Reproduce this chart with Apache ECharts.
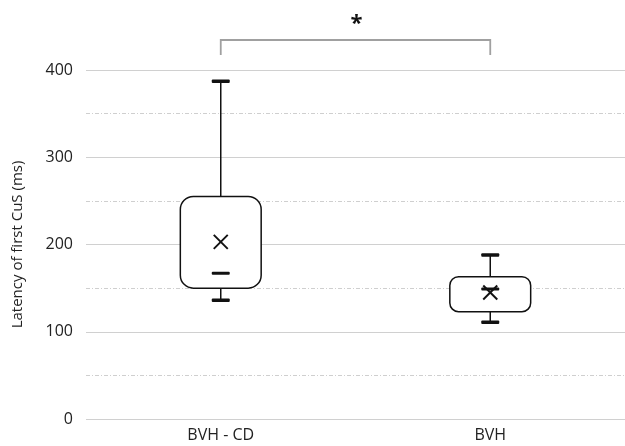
<!DOCTYPE html>
<html>
<head>
<meta charset="utf-8">
<script src="https://cdn.jsdelivr.net/npm/echarts@6/dist/echarts.min.js"></script>
<style>html,body{margin:0;padding:0;background:#fff}#c{width:625px;height:446px}</style>
</head>
<body>
<div id="c"></div>
<script>
const categories = ['BVH - CD', 'BVH'];
const lowerWhisker = [136, 111];
const q1 = [150, 123];
const median = [167, 149];
const q3 = [255, 163];
const upperWhisker = [387, 188];
const mean = [203, 145];
const yTicks = [0, 100, 200, 300, 400];
const significance = '*';

const boxData = categories.map((c, i) => [i, lowerWhisker[i], q1[i], median[i], q3[i], upperWhisker[i], mean[i]]);

function renderBox(params, api) {
  const x = api.value(0);
  const pLow = api.coord([x, api.value(1)]);
  const pQ1 = api.coord([x, api.value(2)]);
  const pMed = api.coord([x, api.value(3)]);
  const pQ3 = api.coord([x, api.value(4)]);
  const pHigh = api.coord([x, api.value(5)]);
  const pMean = api.coord([x, api.value(6)]);
  const cx = pQ1[0];
  const bw = api.size([1, 0])[0] * 0.3;
  const h = pQ1[1] - pQ3[1];
  const r = Math.min(13, h / 4);
  const capW = 18, capH = 3.5;
  const blk = '#111';
  return {
    type: 'group',
    children: [
      { type: 'line', shape: { x1: cx, y1: pHigh[1], x2: cx, y2: pQ3[1] }, style: { stroke: blk, lineWidth: 1.5 } },
      { type: 'line', shape: { x1: cx, y1: pQ1[1], x2: cx, y2: pLow[1] }, style: { stroke: blk, lineWidth: 1.5 } },
      { type: 'rect', shape: { x: cx - capW / 2, y: pHigh[1] - capH / 2, width: capW, height: capH, r: 1 }, style: { fill: blk } },
      { type: 'rect', shape: { x: cx - capW / 2, y: pLow[1] - capH / 2, width: capW, height: capH, r: 1 }, style: { fill: blk } },
      { type: 'rect', shape: { x: cx - bw / 2, y: pQ3[1], width: bw, height: h, r: r }, style: { fill: '#fff', stroke: blk, lineWidth: 1.5 } },
      { type: 'rect', shape: { x: cx - 9, y: pMed[1] - 1.5, width: 18, height: 3, r: 1 }, style: { fill: blk } },
      { type: 'line', shape: { x1: pMean[0] - 7, y1: pMean[1] - 7, x2: pMean[0] + 7, y2: pMean[1] + 7 }, style: { stroke: blk, lineWidth: 2 } },
      { type: 'line', shape: { x1: pMean[0] - 7, y1: pMean[1] + 7, x2: pMean[0] + 7, y2: pMean[1] - 7 }, style: { stroke: blk, lineWidth: 2 } }
    ]
  };
}

function renderBracket(params, api) {
  const a = api.coord([0, yTicks[yTicks.length - 1]]);
  const b = api.coord([1, yTicks[yTicks.length - 1]]);
  const top = a[1] - 30, bot = a[1] - 15;
  const col = '#a0a0a0';
  return {
    type: 'group',
    children: [
      { type: 'polyline', shape: { points: [[a[0], bot], [a[0], top], [b[0], top], [b[0], bot]] }, style: { stroke: col, lineWidth: 1.8, fill: null } },
      { type: 'text', style: { x: (a[0] + b[0]) / 2 + 1, y: top - 16, text: significance, fill: '#111', font: 'bold 22px "Open Sans"', align: 'center', verticalAlign: 'middle' } }
    ]
  };
}

const chart = echarts.init(document.getElementById('c'));
chart.setOption({
  animation: false,
  textStyle: { fontFamily: 'Open Sans' },
  grid: { left: 86, right: -1, top: 70, bottom: 27 },
  xAxis: {
    type: 'category',
    data: categories,
    axisLine: { show: false },
    axisTick: { show: false },
    axisLabel: { fontSize: 16, color: '#222', margin: 8 }
  },
  yAxis: {
    type: 'value',
    min: yTicks[0],
    max: yTicks[yTicks.length - 1],
    interval: 100,
    name: 'Latency of first CuS (ms)',
    nameLocation: 'middle',
    nameGap: 61,
    nameTextStyle: { fontSize: 15, color: '#222' },
    axisLine: { show: false },
    axisTick: { show: false },
    axisLabel: { fontSize: 16, color: '#222', margin: 13 },
    splitLine: { lineStyle: { color: '#d0d0d0', width: 1.2 } },
    minorTick: { show: false, splitNumber: 2 },
    minorSplitLine: { show: true, lineStyle: { color: '#cfcfcf', width: 1, type: [4, 2, 1, 2] } }
  },
  series: [
    { type: 'custom', renderItem: renderBox, data: boxData, encode: { x: 0, y: [1, 2, 3, 4, 5, 6] }, clip: false, z: 5 },
    { type: 'custom', renderItem: renderBracket, data: [[0, yTicks[yTicks.length - 1]]], encode: { x: 0, y: 1 }, clip: false, z: 5 }
  ]
});
</script>
</body>
</html>
